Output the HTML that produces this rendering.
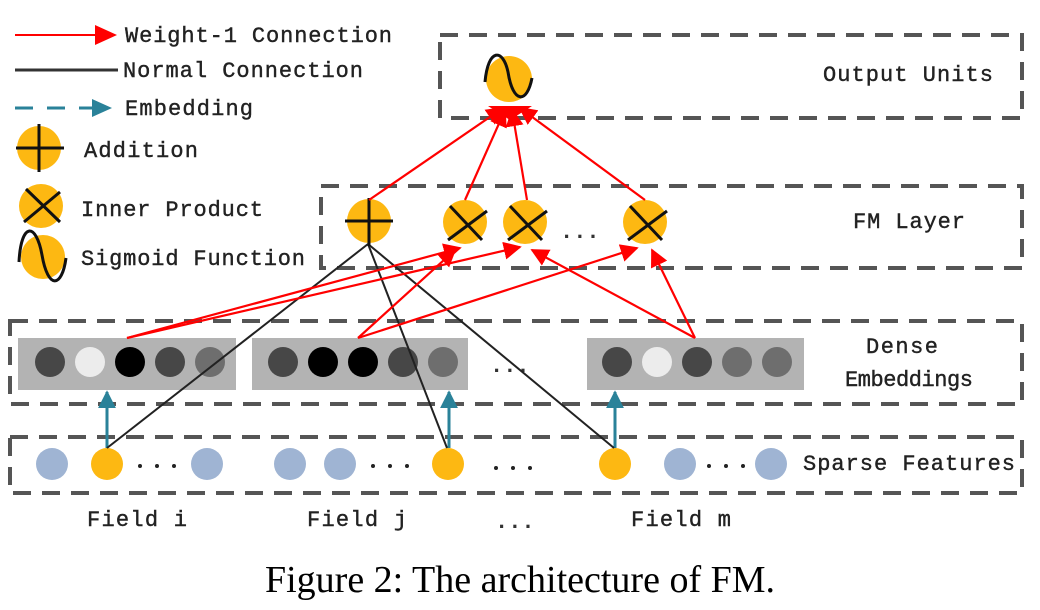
<!DOCTYPE html>
<html><head><meta charset="utf-8"><style>
html,body{margin:0;padding:0;background:#fff;}
svg{display:block}
</style></head><body>
<svg width="1040" height="610" viewBox="0 0 1040 610" xmlns="http://www.w3.org/2000/svg">
<defs>
<marker id="rb" viewBox="0 0 10 10" refX="9" refY="5" markerWidth="18" markerHeight="18" orient="auto" markerUnits="userSpaceOnUse"><path d="M0,0L10,5L0,10z" fill="#f00"/></marker>
<marker id="ta" viewBox="0 0 10 10" refX="9" refY="5" markerWidth="18" markerHeight="18" orient="auto" markerUnits="userSpaceOnUse"><path d="M0,0L10,5L0,10z" fill="#2a8299"/></marker>
</defs>
<g font-family="Liberation Mono, monospace" font-size="22" fill="#222" stroke="#222" stroke-width="0.4">
<text x="125" y="42" textLength="267">Weight-1 Connection</text>
<text x="123" y="77" textLength="240">Normal Connection</text>
<text x="125" y="115" textLength="128">Embedding</text>
<text x="84" y="157" textLength="114">Addition</text>
<text x="81" y="216" textLength="182">Inner Product</text>
<text x="81" y="265" textLength="224">Sigmoid Function</text>
<text x="823" y="81" textLength="170">Output Units</text>
<text x="853" y="228" textLength="112">FM Layer</text>
<text x="866" y="353" textLength="72">Dense</text>
<text x="845" y="386" textLength="128">Embeddings</text>
<text x="803" y="470" textLength="212">Sparse Features</text>
<text x="87" y="526" textLength="100">Field i</text>
<text x="307" y="526" textLength="100">Field j</text>
<text x="631" y="526" textLength="100">Field m</text>
</g>
<g font-family="Liberation Mono, monospace" font-size="22" fill="#333">
<!-- legend -->
<line x1="15" y1="35" x2="100" y2="35" stroke="#f00" stroke-width="2"/>
<path d="M95,25L117,35L95,45z" fill="#f00"/>
<line x1="15" y1="70" x2="118" y2="70" stroke="#333" stroke-width="3"/>
<line x1="15" y1="108" x2="95" y2="108" stroke="#2a8299" stroke-width="3" stroke-dasharray="18,14"/>
<path d="M92,99L112,108L92,117z" fill="#2a8299"/>
<circle cx="39" cy="148" r="22" fill="#fdb812"/>
<line x1="16" y1="148" x2="64" y2="148" stroke="#111" stroke-width="3"/><line x1="39" y1="124" x2="39" y2="172" stroke="#111" stroke-width="3"/>
<circle cx="41" cy="206" r="22" fill="#fdb812"/>
<line x1="26" y1="189" x2="60" y2="222" stroke="#111" stroke-width="3"/><line x1="60" y1="192" x2="24" y2="222" stroke="#111" stroke-width="3"/>
<circle cx="43" cy="257" r="22" fill="#fdb812"/>
<path d="M19,262 C21,222 36,222 42,255 C48,290 62,288 66,258" fill="none" stroke="#111" stroke-width="3"/>

<!-- boxes -->
<g fill="none" stroke="#555" stroke-width="4" stroke-dasharray="18,11">
<rect x="440" y="35" width="582" height="83"/>
<rect x="321" y="186" width="701" height="82"/>
<rect x="10" y="321" width="1012" height="83"/>
<rect x="10" y="437" width="1012" height="56"/>
</g>
<text x="495" y="528" font-weight="bold">...</text>

<!-- embeddings -->
<rect x="18" y="338" width="218" height="52" fill="#b3b3b3"/>
<rect x="252" y="338" width="216" height="52" fill="#b3b3b3"/>
<rect x="587" y="338" width="217" height="52" fill="#b3b3b3"/>
<circle cx="50" cy="362" r="15" fill="#474747"/><circle cx="90" cy="362" r="15" fill="#ececec"/><circle cx="130" cy="362" r="15" fill="#000"/><circle cx="170" cy="362" r="15" fill="#474747"/><circle cx="210" cy="362" r="15" fill="#6e6e6e"/>
<circle cx="283" cy="362" r="15" fill="#474747"/><circle cx="323" cy="362" r="15" fill="#000"/><circle cx="363" cy="362" r="15" fill="#000"/><circle cx="403" cy="362" r="15" fill="#474747"/><circle cx="443" cy="362" r="15" fill="#6e6e6e"/>
<circle cx="617" cy="362" r="15" fill="#474747"/><circle cx="657" cy="362" r="15" fill="#ececec"/><circle cx="697" cy="362" r="15" fill="#474747"/><circle cx="737" cy="362" r="15" fill="#6e6e6e"/><circle cx="777" cy="362" r="15" fill="#6e6e6e"/>
<text x="490" y="372" font-weight="bold">...</text>

<!-- sparse -->
<g fill="#9fb4d3"><circle cx="52" cy="464" r="16"/><circle cx="207" cy="464" r="16"/><circle cx="290" cy="464" r="16"/><circle cx="340" cy="464" r="16"/><circle cx="680" cy="464" r="16"/><circle cx="771" cy="464" r="16"/></g>
<g fill="#fdb812"><circle cx="107" cy="464" r="16"/><circle cx="448" cy="464" r="16"/><circle cx="615" cy="464" r="16"/></g>
<g fill="#222"><circle cx="140" cy="466" r="2"/><circle cx="157" cy="466" r="2"/><circle cx="174" cy="466" r="2"/>
<circle cx="373" cy="466" r="2"/><circle cx="390" cy="466" r="2"/><circle cx="407" cy="466" r="2"/>
<circle cx="496" cy="468" r="2"/><circle cx="513" cy="468" r="2"/><circle cx="530" cy="468" r="2"/>
<circle cx="709" cy="466" r="2"/><circle cx="726" cy="466" r="2"/><circle cx="743" cy="466" r="2"/></g>

<!-- teal arrows -->
<g stroke="#2a8299" stroke-width="3" marker-end="url(#ta)">
<line x1="107" y1="448" x2="107" y2="392"/><line x1="449" y1="448" x2="449" y2="392"/><line x1="615" y1="448" x2="615" y2="392"/>
</g>

<!-- black lines -->
<g stroke="#222" stroke-width="2">
<line x1="368" y1="244" x2="107" y2="448"/><line x1="368" y1="244" x2="447" y2="448"/><line x1="368" y1="244" x2="614" y2="448"/>
</g>

<!-- red lines to FM layer -->
<g stroke="#f00" stroke-width="2.2" marker-end="url(#rb)">
<line x1="127" y1="338" x2="460" y2="248"/>
<line x1="127" y1="338" x2="520" y2="247"/>
<line x1="358" y1="338" x2="455" y2="250"/>
<line x1="358" y1="338" x2="637" y2="248"/>
<line x1="695" y1="338" x2="532" y2="250"/>
<line x1="695" y1="338" x2="652" y2="250"/>
</g>

<!-- FM nodes -->
<circle cx="369" cy="221" r="22" fill="#fdb812"/>
<line x1="345" y1="221" x2="393" y2="221" stroke="#111" stroke-width="3"/><line x1="369" y1="198" x2="369" y2="246" stroke="#111" stroke-width="3"/>
<g stroke="#111" stroke-width="3">
<circle cx="465" cy="222" r="22" fill="#fdb812" stroke="none"/><line x1="450" y1="206" x2="482" y2="240"/><line x1="487" y1="211" x2="448" y2="240"/>
<circle cx="525" cy="222" r="22" fill="#fdb812" stroke="none"/><line x1="510" y1="206" x2="542" y2="240"/><line x1="547" y1="211" x2="508" y2="240"/>
<circle cx="645" cy="222" r="22" fill="#fdb812" stroke="none"/><line x1="630" y1="206" x2="662" y2="240"/><line x1="667" y1="211" x2="628" y2="240"/>
</g>
<text x="560" y="238" font-weight="bold">...</text>

<!-- red to output -->
<g stroke="#f00" stroke-width="2.2" marker-end="url(#rb)">
<line x1="369" y1="200" x2="503" y2="108"/>
<line x1="465" y1="200" x2="505" y2="110"/>
<line x1="527" y1="200" x2="512" y2="110"/>
<line x1="645" y1="200" x2="520" y2="108"/>
</g>
<path d="M488,106L532,106L510,120z" fill="#f00"/>
<!-- output node -->
<circle cx="509" cy="79" r="23" fill="#fdb812"/>
<path d="M485,82 C488,48 503,48 508,72 C513,104 527,104 532,78" fill="none" stroke="#111" stroke-width="3"/>
</g>
<text x="520" y="592" text-anchor="middle" font-family="Liberation Serif, serif" font-size="38" fill="#000">Figure 2: The architecture of FM.</text>
</svg>
</body></html>
